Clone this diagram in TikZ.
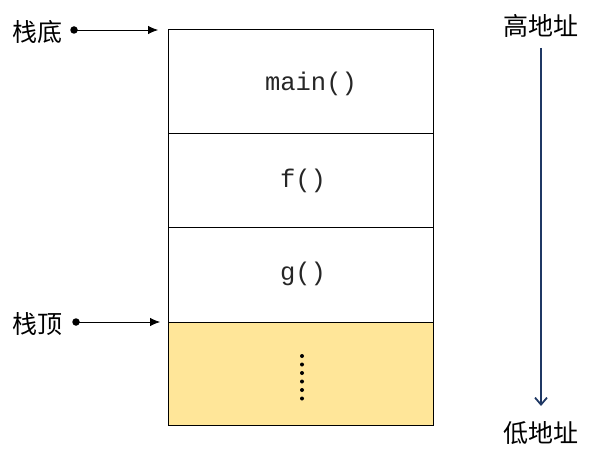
\documentclass[tikz,border=0pt]{standalone}
\usepackage{fontspec}
\newfontfamily\cjk{Noto Sans CJK SC}
\newfontfamily\mono{Liberation Mono}
\usetikzlibrary{arrows.meta}
\definecolor{stackfill}{RGB}{255,230,153}
\definecolor{navy}{RGB}{31,56,100}
\tikzset{
  frame/.style={draw=black, line width=0.9pt, minimum width=265pt, inner sep=0pt, outer sep=0pt, anchor=north west},
  lbl/.style={font=\cjk\fontsize{25}{27}\selectfont, inner sep=0pt},
  fn/.style={font=\mono\fontsize{25.5}{27}\selectfont, inner sep=0pt, text=black!85},
  ptr/.style={line width=0.8pt, -{Latex[length=10pt,width=8.5pt]}},
  pdot/.style={circle, fill=black, inner sep=0pt, minimum size=7.5pt},
  sdot/.style={circle, fill=black, inner sep=0pt, minimum size=4pt},
}
\begin{document}
\begin{tikzpicture}[x=1pt,y=-1pt]
\useasboundingbox (0,0) rectangle (596,449);
\node[frame, minimum height=104pt] (b1) at (168,29) {};
\node[frame, minimum height=94pt] (b2) at (168,133) {};
\node[frame, minimum height=95pt] (b3) at (168,227) {};
\node[frame, minimum height=103pt, fill=stackfill] (b4) at (168,322) {};
\node[fn] (t1) at (311,84) {main()};
\node[fn] (t2) at (303,181) {f()};
\node[fn] (t3) at (303,274) {g()};
\foreach \i/\yy in {1/356,2/364.5,3/373,4/381.5,5/390,6/398.5}
  \node[sdot] (d\i) at (302,\yy) {};
\node[lbl, anchor=east] (sb) at (63,32) {栈底};
\node[pdot] (sbd) at (74,30) {};
\coordinate (sbe) at (158,30);
\draw[ptr] (sbd.center) -- (sbe);
\node[lbl, anchor=east] (st) at (63,324) {栈顶};
\node[pdot] (std) at (76,322) {};
\coordinate (ste) at (160,322);
\draw[ptr] (std.center) -- (ste);
\node[lbl] (hi) at (541,26) {高地址};
\node[lbl] (lo) at (541,433) {低地址};
\draw[navy, line width=1.8pt, -{Straight Barb[length=7pt,width=12pt]}] (541,48) -- (541,406);
\end{tikzpicture}
\end{document}
